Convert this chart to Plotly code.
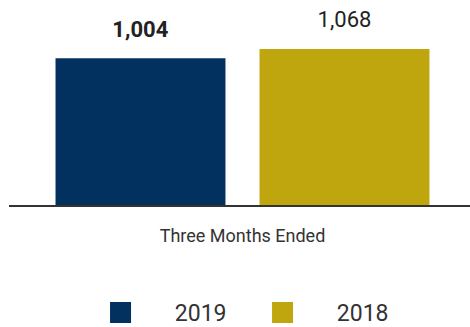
import plotly.graph_objects as go

categories = ["Three Months Ended"]
years = ["2019", "2018"]
values_2019 = [1004]
values_2018 = [1068]
colors = ["#02305F", "#C0A60E"]
label_templates = [
    "<span style='font-size:22px'><b>%{y:,}</b></span><br> ",
    "<span style='font-size:22px'>%{y:,}</span><br> ",
]

fig = go.Figure()
for name, vals, col, tpl in zip(years, [values_2019, values_2018], colors, label_templates):
    fig.add_trace(go.Bar(
        x=categories, y=vals, name=name, marker=dict(color=col, line=dict(width=0)),
        texttemplate=tpl, textposition="outside", cliponaxis=False,
        textfont=dict(family="Roboto", size=12, color="#222222"),
        showlegend=False, hoverinfo="skip",
    ))
    # legend swatch
    fig.add_trace(go.Scatter(
        x=[None], y=[None], mode="markers", name="\u00a0" * 6 + name,
        marker=dict(symbol="square", size=16, color=col, line=dict(color=col, width=5)),
    ))

fig.update_layout(
    width=470, height=327,
    margin=dict(l=9, r=0, t=10, b=122),
    paper_bgcolor="white", plot_bgcolor="white",
    barmode="group", bargap=0.12, bargroupgap=0.167,
    font=dict(family="Roboto", color="#333333"),
    showlegend=True,
    legend=dict(orientation="h", x=0.55, xanchor="center",
                yref="container", y=0.11, yanchor="top",
                font=dict(size=23, color="#333333"), entrywidth=117,
                itemsizing="trace"),
)
fig.update_xaxes(range=[-0.5036, 0.4907], showline=True, linecolor="#333333", linewidth=2,
                 ticks="outside", ticklen=13, tickcolor="rgba(0,0,0,0)",
                 tickfont=dict(size=18, color="#333333"), showgrid=False, zeroline=False)
fig.update_yaxes(range=[0, 1335], visible=False, showgrid=False, zeroline=False)

fig.write_html("out.html")
